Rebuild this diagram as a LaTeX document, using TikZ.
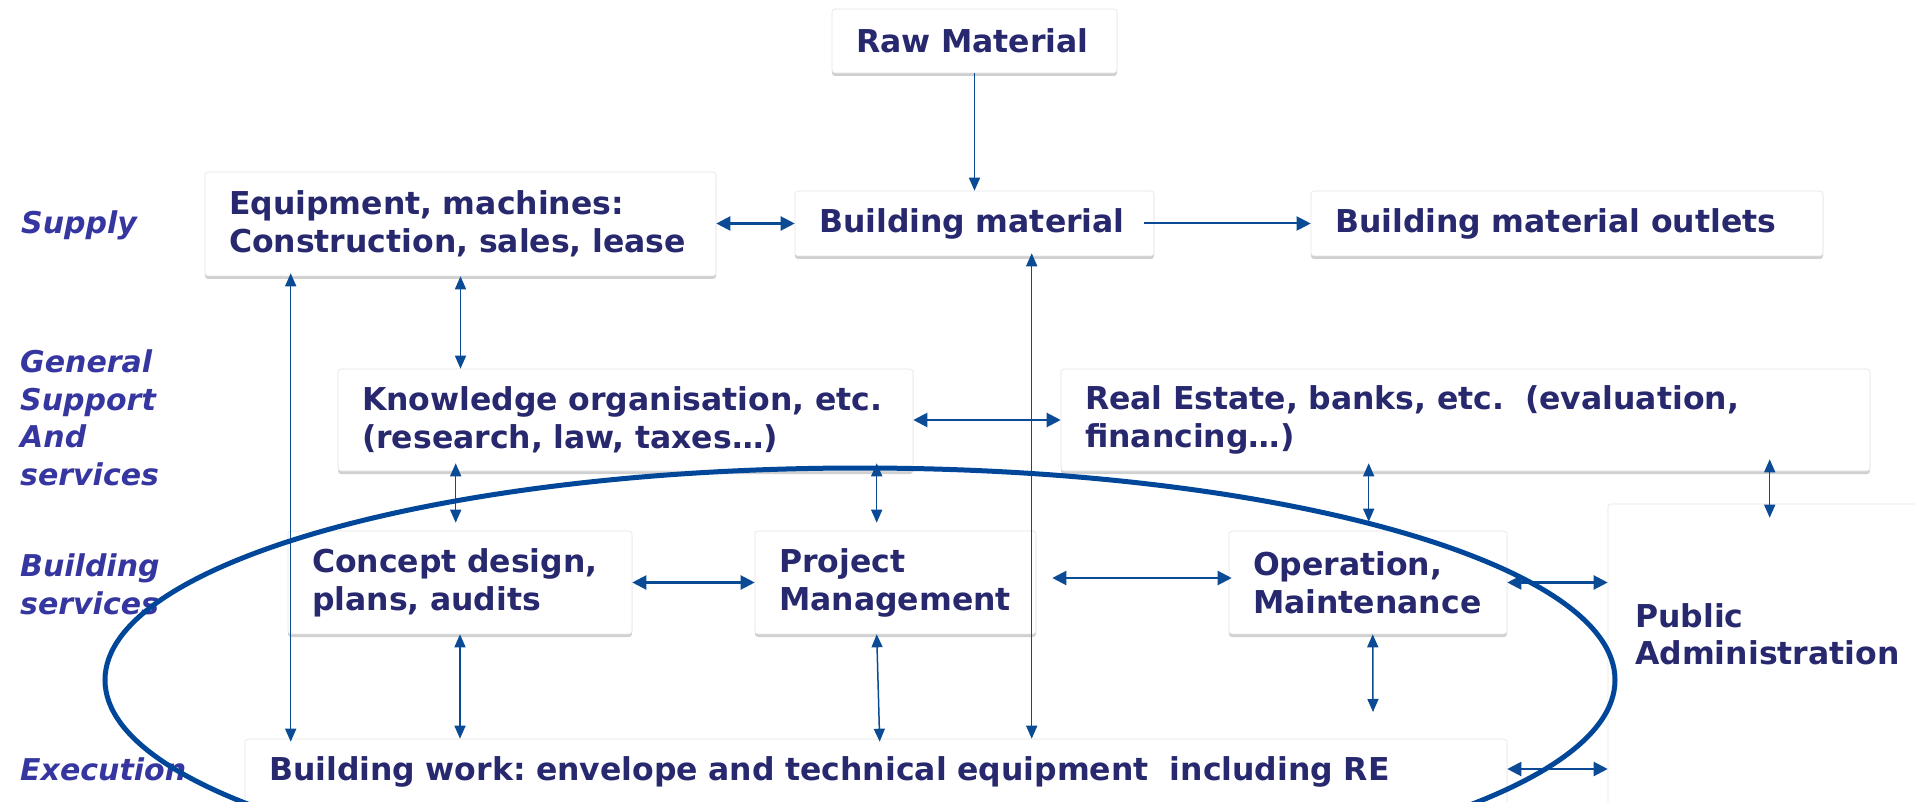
\documentclass[tikz,border=0pt]{standalone}
\usepackage{fontspec}
\setmainfont{DejaVu Sans}
\frenchspacing
\usetikzlibrary{arrows.meta,shadows,calc}
\definecolor{txt}{RGB}{39,40,110}
\definecolor{lbl}{RGB}{54,54,160}
\definecolor{ablue}{RGB}{11,74,148}
\definecolor{ellc}{RGB}{0,71,153}
\tikzset{
  box/.style={draw=gray!22, line width=0.6pt, fill=white, rounded corners=3pt,
    drop shadow={shadow xshift=0pt, shadow yshift=-3pt, opacity=0.3, fill=black!60},
    inner xsep=24pt, inner ysep=0pt, align=left, text=txt,
    font=\bfseries\fontsize{31.5}{38}\selectfont},
  patxt/.style={text=txt, font=\bfseries\fontsize{31.5}{37}\selectfont, inner sep=0pt, align=left},
  lab/.style={text=lbl, font=\bfseries\itshape\fontsize{30}{37.5}\selectfont, inner sep=0pt, align=left},
  con/.style={draw=ablue, line width=1.5pt, {Triangle[length=13pt,width=11pt]}-{Triangle[length=13pt,width=11pt]}},
  conh/.style={draw=ablue, line width=2.2pt, {Triangle[length=14pt,width=14pt]}-{Triangle[length=14pt,width=14pt]}},
  one/.style={draw=ablue, line width=1.5pt, -{Triangle[length=13pt,width=11pt]}},
  oneh/.style={draw=ablue, line width=2pt, -{Triangle[length=14pt,width=14pt]}},
  ell/.style={draw=ellc, line width=5pt}
}
\begin{document}
\begin{tikzpicture}[x=1pt,y=-1pt]
\useasboundingbox (0,0) rectangle (1915,802);
\fill[white] (0,0) rectangle (1915,802);
\clip (0,0) rectangle (1915,802);

% boxes
\node[box, minimum width=285pt, text width=237pt, minimum height=64pt] (raw) at (974.5,41) {\raisebox{-3pt}{Raw Material}};
\node[box, minimum width=511pt, text width=463pt, minimum height=104pt] (equip) at (460.5,224) {\mbox{Equipment, machines:}\\\mbox{Construction, sales, lease}};
\node[box, minimum width=359pt, text width=311pt, minimum height=65pt] (bm) at (974.5,223.5) {\mbox{Building material}};
\node[box, minimum width=512pt, text width=464pt, minimum height=65pt] (outl) at (1567,223.5) {\mbox{Building material outlets}};
\node[box, minimum width=575pt, text width=527pt, minimum height=102pt] (know) at (625.5,420) {\mbox{Knowledge organisation, etc.}\\\mbox{(research, law, taxes…)}};
\node[box, minimum width=809pt, text width=761pt, minimum height=102pt] (real) at (1465.5,420) {\mbox{Real Estate, banks, etc.\ \ (evaluation,}\\\mbox{financing…)}};
\node[box, minimum width=344pt, text width=296pt, minimum height=103pt] (conc) at (460,582.5) {\mbox{Concept design,}\\\mbox{plans, audits}};
\node[box, minimum width=281pt, text width=233pt, minimum height=103pt] (proj) at (895.5,582.5) {Project\\\mbox{Management}};
\node[box, minimum width=278pt, text width=230pt, minimum height=103pt] (oper) at (1368,582.5) {\mbox{Operation,}\\\mbox{Maintenance}};
\node[box, minimum width=1262pt, text width=1214pt, minimum height=66pt] (work) at (876,772) {\mbox{Building work: envelope and technical equipment\ \ including RE}};
\node[box, minimum width=322pt, minimum height=316pt] (pa) at (1769,662) {};
\node[patxt, anchor=north west] (patext) at (1635,603) {Public\\Administration};

% row labels
\node[lab, anchor=base west] (lsupply) at (21,234) {Supply};
\node[lab, anchor=north west] (lgen) at (20,350) {General\\Support\\And\\services};
\node[lab, anchor=north west] (lbs) at (20,554) {Building\\services};
\node[lab, anchor=base west] (lexe) at (20,780) {Execution};

% connectors
\draw[one] (raw.south) -- (bm.north);
\draw[conh] (bm.west -| equip.east) -- (bm.west);
\draw[oneh] ([xshift=-10pt]bm.east) -- (outl.west);
\draw[con] ([xshift=86pt,yshift=3pt]equip.south west) -- ([xshift=46pt,yshift=-3pt]work.north west);
\draw[con] (equip.south) -- (equip.south |- know.north);
\coordinate (bmx) at ([xshift=237pt,yshift=3pt]bm.south west);
\draw[con] (bmx) -- (bmx |- work.north);
\draw[conh] (know.east) -- (real.west);
\coordinate (k1) at ([xshift=118pt]know.south west);
\draw[con, shorten <=-8pt, shorten >=8pt] (k1) -- (k1 |- conc.north);
\coordinate (k2) at ([xshift=539pt]know.south west);
\draw[con, shorten <=-8pt, shorten >=8pt] (k2) -- (k2 |- proj.north);
\coordinate (r1) at ([xshift=308pt]real.south west);
\draw[con, shorten <=-8pt, shorten >=9pt] (r1) -- (r1 |- oper.north);
\coordinate (r2) at ([xshift=709pt]real.south west);
\draw[con, shorten <=-12pt, shorten >=-14pt] (r2) -- (r2 |- pa.north);
\draw[conh] (conc.east) -- (proj.west);
\draw[conh, shorten <=16pt, shorten >=-3pt] ([yshift=4.5pt]proj.east) -- ([yshift=4.5pt]oper.west);
\draw[conh] (oper.east) -- (oper.east -| pa.west);
\draw[con] (conc.south) -- (conc.south |- work.north);
\draw[con] ([xshift=122pt]proj.south west) -- ([xshift=635pt,yshift=-3pt]work.north west);
\coordinate (o1) at ([xshift=144pt]oper.south west);
\coordinate (oend) at (1373,712);
\draw[con] (o1) -- (oend);
\coordinate (w1) at ([yshift=3pt]work.east);
\draw[conh] (w1) -- (w1 -| pa.west);

% ellipse
\draw[ell] (860,680) ellipse [x radius=755pt, y radius=212pt];
\end{tikzpicture}
\end{document}
